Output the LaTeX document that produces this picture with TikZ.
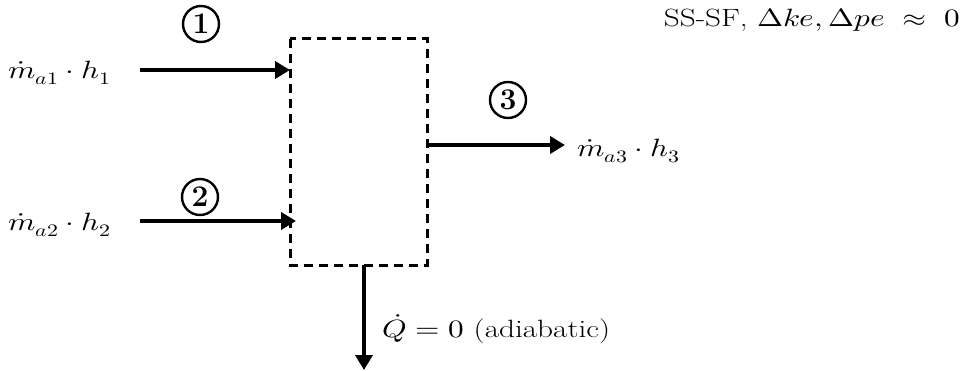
\documentclass[tikz,border=0pt]{standalone}
\usepackage{fontspec}
\usepackage{unicode-math}
\setmathfont{Latin Modern Math}
\usetikzlibrary{arrows.meta}
\begin{document}
\begin{tikzpicture}[x=1pt,y=-1pt,
  flow/.style={line width=4pt,-{Triangle[length=15pt,width=17pt]}},
  lbl/.style={inner sep=0pt,xscale=1.25,transform shape,font=\fontsize{25}{28}\selectfont},
  num/.style={circle,draw,line width=2.4pt,inner sep=0pt,minimum size=36pt,font=\fontsize{30}{32}\selectfont\bfseries}]
\useasboundingbox (0,0) rectangle (971,371);
\draw[line width=3pt,dash pattern=on 9pt off 6pt] (290,39) rectangle (427,265);
\coordinate (in1) at (290,70);
\coordinate (in2) at (296,221);
\coordinate (out3) at (427,145);
\coordinate (e3) at (565,145);
\coordinate (bot) at (364,265);
\coordinate (qend) at (364,370);
\coordinate (s1) at (140,70);
\coordinate (s2) at (140,221);
\node[lbl,anchor=west] (m1) at (8,73) {$\dot m_{a1}\cdot h_1$};
\node[lbl,anchor=west] (m2) at (8,225) {$\dot m_{a2}\cdot h_2$};
\node[lbl,anchor=west] (m3) at (577,151) {$\dot m_{a3}\cdot h_3$};
\draw[flow] (s1) -- (in1);
\draw[flow] (s2) -- (in2);
\draw[flow] (out3) -- (e3);
\draw[flow] (bot) -- (qend);
\node[num] (c1) at (201,24) {1};
\node[num] (c2) at (200,197) {2};
\node[num] (c3) at (508,100) {3};
\node[lbl,anchor=west] (q) at (382,329) {$\dot Q = 0$ (adiabatic)};
\node[lbl,anchor=east] (ss) at (960,20) {SS-SF, $\Delta ke, \Delta pe \;\approx\; 0$};
\end{tikzpicture}
\end{document}
